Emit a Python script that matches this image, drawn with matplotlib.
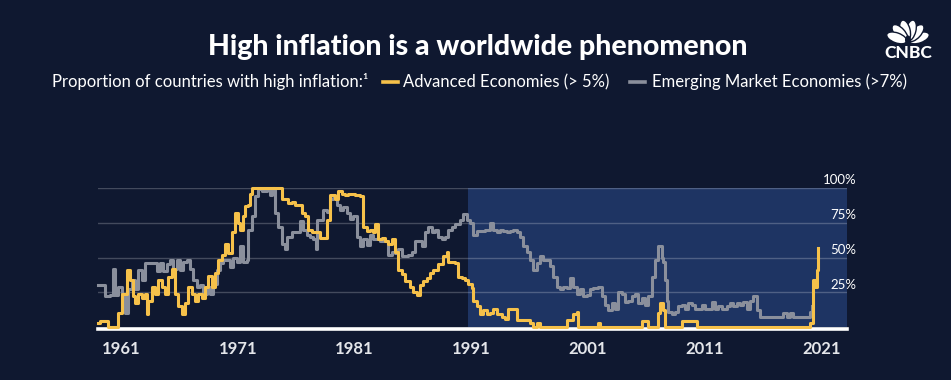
import math

import matplotlib.pyplot as plt
from matplotlib.lines import Line2D
from matplotlib.patches import Ellipse

plt.rcParams['font.family'] = ['Lato', 'DejaVu Sans']

# Advanced economies, share of countries with inflation > 5% (%)
adv_year = [1959.06, 1959.20, 1959.77, 1959.91, 1960.48, 1960.77, 1961.06, 1961.54, 1961.77, 1962.06,
            1962.20, 1962.48, 1962.77, 1963.06, 1963.20, 1963.34, 1963.63, 1963.91, 1964.20, 1964.48,
            1964.77, 1965.06, 1965.34, 1965.63, 1965.91, 1966.20, 1966.48, 1966.77, 1967.06, 1967.34,
            1967.63, 1967.91, 1968.20, 1968.48, 1968.77, 1969.06, 1969.34, 1969.63, 1969.91, 1970.05,
            1970.19, 1970.48, 1970.77, 1971.05, 1971.19, 1971.48, 1971.62, 1971.91, 1972.05, 1972.19,
            1974.62, 1974.77, 1975.19, 1975.34, 1975.62, 1975.91, 1976.19, 1976.48, 1976.77, 1977.05,
            1977.34, 1977.77, 1978.05, 1978.48, 1978.62, 1978.91, 1979.34, 1979.62, 1979.91, 1980.19,
            1980.48, 1981.05, 1981.48, 1981.76, 1982.05, 1982.33, 1982.62, 1982.76, 1983.05, 1983.33,
            1983.62, 1983.90, 1984.19, 1984.48, 1984.76, 1985.05, 1985.33, 1985.76, 1986.05, 1986.33,
            1986.62, 1986.90, 1987.19, 1987.48, 1987.76, 1988.19, 1988.62, 1988.90, 1989.05, 1989.33,
            1989.62, 1989.90, 1990.19, 1990.48, 1990.76, 1991.05, 1991.20, 1991.48, 1991.77, 1992.05,
            1992.34, 1992.62, 1992.91, 1993.20, 1993.62, 1993.91, 1994.20, 1994.62, 1994.91, 1996.05,
            1996.34, 1996.62, 1996.91, 1999.20, 1999.77, 2000.05, 2000.20, 2001.91, 2002.05, 2005.62,
            2006.19, 2007.05, 2007.19, 2007.48, 2007.62, 2009.05, 2010.33, 2020.05, 2020.33, 2020.48,
            2020.62, 2020.70]
adv_pct = [3, 4, 4, 0, 0, 10, 24, 41, 34, 22,
           17, 24, 21, 24, 9, 19, 29, 24, 34, 29,
           24, 36, 42, 24, 15, 9, 17, 29, 24, 19,
           24, 21, 29, 37, 29, 39, 48, 52, 60, 60,
           53, 68, 82, 75, 70, 80, 87, 88, 96, 100,
           100, 92, 92, 89, 90, 88, 88, 82, 80, 70,
           68, 68, 64, 64, 77, 95, 92, 98, 96, 95,
           96, 95, 94, 72, 69, 70, 68, 74, 63, 64,
           62, 60, 63, 54, 41, 38, 33, 29, 25, 23,
           30, 33, 35, 39, 41, 45, 51, 54, 47, 47,
           46, 36, 35, 34, 31, 28, 19, 15, 9, 12,
           9, 10, 13, 9, 7, 6, 13, 13, 5, 3,
           0, 3, 0, 5, 9, 11, 0, 3, 0, 4,
           0, 10, 17, 12, 0, 4, 0, 3, 34, 29,
           41, 57]

# Emerging market economies, share of countries with inflation > 7% (%)
emg_year = [1959.06, 1959.63, 1960.06, 1960.34, 1960.48, 1960.77, 1961.06, 1961.34, 1961.63, 1961.91,
            1962.20, 1962.48, 1962.77, 1963.06, 1964.06, 1964.34, 1964.63, 1964.91, 1965.20, 1965.48,
            1965.77, 1966.06, 1966.34, 1966.63, 1966.91, 1967.20, 1967.48, 1967.77, 1968.06, 1968.34,
            1968.63, 1968.91, 1969.20, 1969.48, 1969.77, 1970.34, 1970.62, 1970.91, 1971.19, 1971.48,
            1971.77, 1971.91, 1972.19, 1972.48, 1972.77, 1973.05, 1973.48, 1973.77, 1973.91, 1974.19,
            1974.48, 1974.77, 1975.05, 1975.19, 1975.62, 1976.34, 1976.62, 1976.91, 1977.19, 1977.48,
            1977.68, 1977.77, 1978.34, 1978.62, 1978.91, 1979.19, 1979.48, 1979.77, 1980.05, 1980.34,
            1980.62, 1980.90, 1981.19, 1981.48, 1981.76, 1982.05, 1982.33, 1982.62, 1983.19, 1983.90,
            1984.19, 1984.48, 1984.76, 1985.05, 1985.62, 1985.90, 1986.19, 1986.76, 1987.05, 1987.33,
            1987.62, 1987.90, 1988.19, 1988.48, 1988.76, 1989.05, 1989.33, 1989.62, 1990.05, 1990.33,
            1990.62, 1990.90, 1991.20, 1991.48, 1992.20, 1992.62, 1992.91, 1993.20, 1993.48, 1993.77,
            1994.05, 1994.34, 1994.62, 1994.91, 1995.20, 1995.48, 1995.77, 1996.05, 1996.34, 1996.62,
            1996.91, 1997.20, 1997.77, 1998.05, 1998.34, 1998.62, 1998.91, 1999.20, 1999.48, 1999.77,
            2000.05, 2000.34, 2000.62, 2000.91, 2001.20, 2001.48, 2001.91, 2002.19, 2002.48, 2002.76,
            2003.05, 2003.33, 2003.62, 2003.90, 2004.19, 2004.48, 2004.76, 2005.05, 2005.33, 2005.62,
            2005.90, 2006.19, 2006.48, 2006.76, 2007.05, 2007.33, 2007.48, 2007.62, 2007.76, 2007.90,
            2008.19, 2008.48, 2008.76, 2009.05, 2009.33, 2009.62, 2009.90, 2010.19, 2010.76, 2011.05,
            2011.62, 2011.90, 2012.19, 2012.48, 2012.90, 2013.19, 2013.47, 2013.76, 2014.04, 2014.33,
            2014.61, 2014.90, 2015.19, 2015.47, 2015.76, 2017.76, 2018.04, 2018.33, 2018.61, 2020.04,
            2020.19]
emg_pct = [30, 22, 23, 42, 23, 29, 23, 10, 27, 34,
           27, 41, 34, 46, 40, 46, 40, 45, 48, 42,
           48, 41, 47, 48, 42, 34, 29, 30, 24, 29,
           24, 31, 41, 46, 48, 43, 50, 47, 58, 47,
           48, 70, 80, 94, 99, 98, 99, 95, 100, 82,
           72, 60, 56, 65, 68, 76, 70, 66, 65, 63,
           56, 77, 84, 83, 92, 93, 88, 84, 86, 82,
           78, 80, 65, 58, 63, 59, 66, 63, 62, 52,
           54, 53, 56, 51, 52, 54, 62, 58, 68, 72,
           68, 70, 65, 63, 65, 70, 72, 74, 77, 81,
           77, 75, 66, 69, 70, 75, 70, 68, 70, 69,
           68, 69, 70, 68, 65, 58, 54, 48, 41, 46,
           51, 48, 44, 36, 29, 27, 29, 28, 35, 29,
           24, 27, 22, 23, 27, 28, 29, 22, 16, 12,
           17, 13, 25, 24, 18, 19, 22, 24, 17, 21,
           16, 22, 36, 48, 58, 50, 47, 34, 19, 11,
           9, 11, 15, 16, 13, 17, 16, 13, 16, 13,
           18, 13, 15, 13, 15, 17, 15, 17, 16, 18,
           13, 19, 22, 12, 7, 10, 7, 10, 7, 11,
           15]

tick_years = [1961, 1971, 1981, 1991, 2001, 2011, 2021]
grid_levels = [25, 50, 75, 100]

BG = '#0f1830'
SHADE = '#1e3463'
YELLOW = '#f6c14a'
GREY = '#8a8f9c'

fig = plt.figure(figsize=(9.51, 3.80), dpi=100)
fig.patch.set_facecolor(BG)

ax = fig.add_axes([98 / 951, 1 - 327 / 380, 749 / 951, 139 / 380])
ax.set_facecolor(BG)
ax.set_xlim(1959.03, 2023.21)
ax.set_ylim(0, 100)
ax.axvspan(1990.73, 2023.21, color=SHADE, zorder=0, lw=0)

for v in grid_levels:
    ax.axhline(v, color='white', alpha=0.22, lw=1, zorder=1)
    ax.text(1.013, v + 5.5, f'{v}%', transform=ax.get_yaxis_transform(),
            ha='right', va='center', color='white', fontsize=9.5)
ax.axhline(-1.2, color='white', lw=2.6, zorder=2, clip_on=False)

ax.plot(emg_year, emg_pct, color=GREY, lw=2.2, drawstyle='steps-post', zorder=3, clip_on=False)
ax.plot(adv_year, adv_pct, color=YELLOW, lw=2.2, drawstyle='steps-post', zorder=4, clip_on=False)

ax.set_xticks(tick_years)
ax.set_xticklabels([str(y) for y in tick_years], fontsize=12, fontweight='bold', color='#e4e6ea')
ax.tick_params(axis='x', length=0, pad=10)
ax.set_yticks([])
for s in ax.spines.values():
    s.set_visible(False)

fig.text(478 / 951, 1 - 47 / 380, 'High inflation is a worldwide phenomenon',
         ha='center', va='center', fontsize=20.5, fontweight='black', color='white')

sub_y = 1 - 82 / 380
fig.text(52 / 951, sub_y, 'Proportion of countries with high inflation:\u00b9',
         ha='left', va='center', fontsize=12, color='white')
fig.add_artist(Line2D([383 / 951, 398 / 951], [sub_y, sub_y], color=YELLOW, lw=2.6))
fig.text(403 / 951, sub_y, 'Advanced Economies (> 5%)', ha='left', va='center', fontsize=12, color='white')
fig.add_artist(Line2D([630 / 951, 645 / 951], [sub_y, sub_y], color=GREY, lw=2.6))
fig.text(652 / 951, sub_y, 'Emerging Market Economies (>7%)', ha='left', va='center', fontsize=12, color='white')

# CNBC peacock logo
lax = fig.add_axes([876 / 951, 1 - 60 / 380, 64 / 951, 52 / 380])
lax.set_xlim(0, 64)
lax.set_ylim(0, 52)
lax.axis('off')
for ang in [20, 48, 76, 104, 132, 160]:
    cx = 32 + 12 * math.cos(math.radians(ang))
    cy = 18 + 12 * math.sin(math.radians(ang))
    lax.add_patch(Ellipse((cx, cy), 21, 10, angle=ang, facecolor='white', edgecolor=BG, lw=1.0))
lax.add_patch(Ellipse((32, 20), 6, 9, facecolor=BG, edgecolor='none'))
lax.text(32, 7, 'CNBC', ha='center', va='center', fontsize=12.5, fontweight='black', color='white')

fig.savefig('out.png', dpi=100, facecolor=BG)
